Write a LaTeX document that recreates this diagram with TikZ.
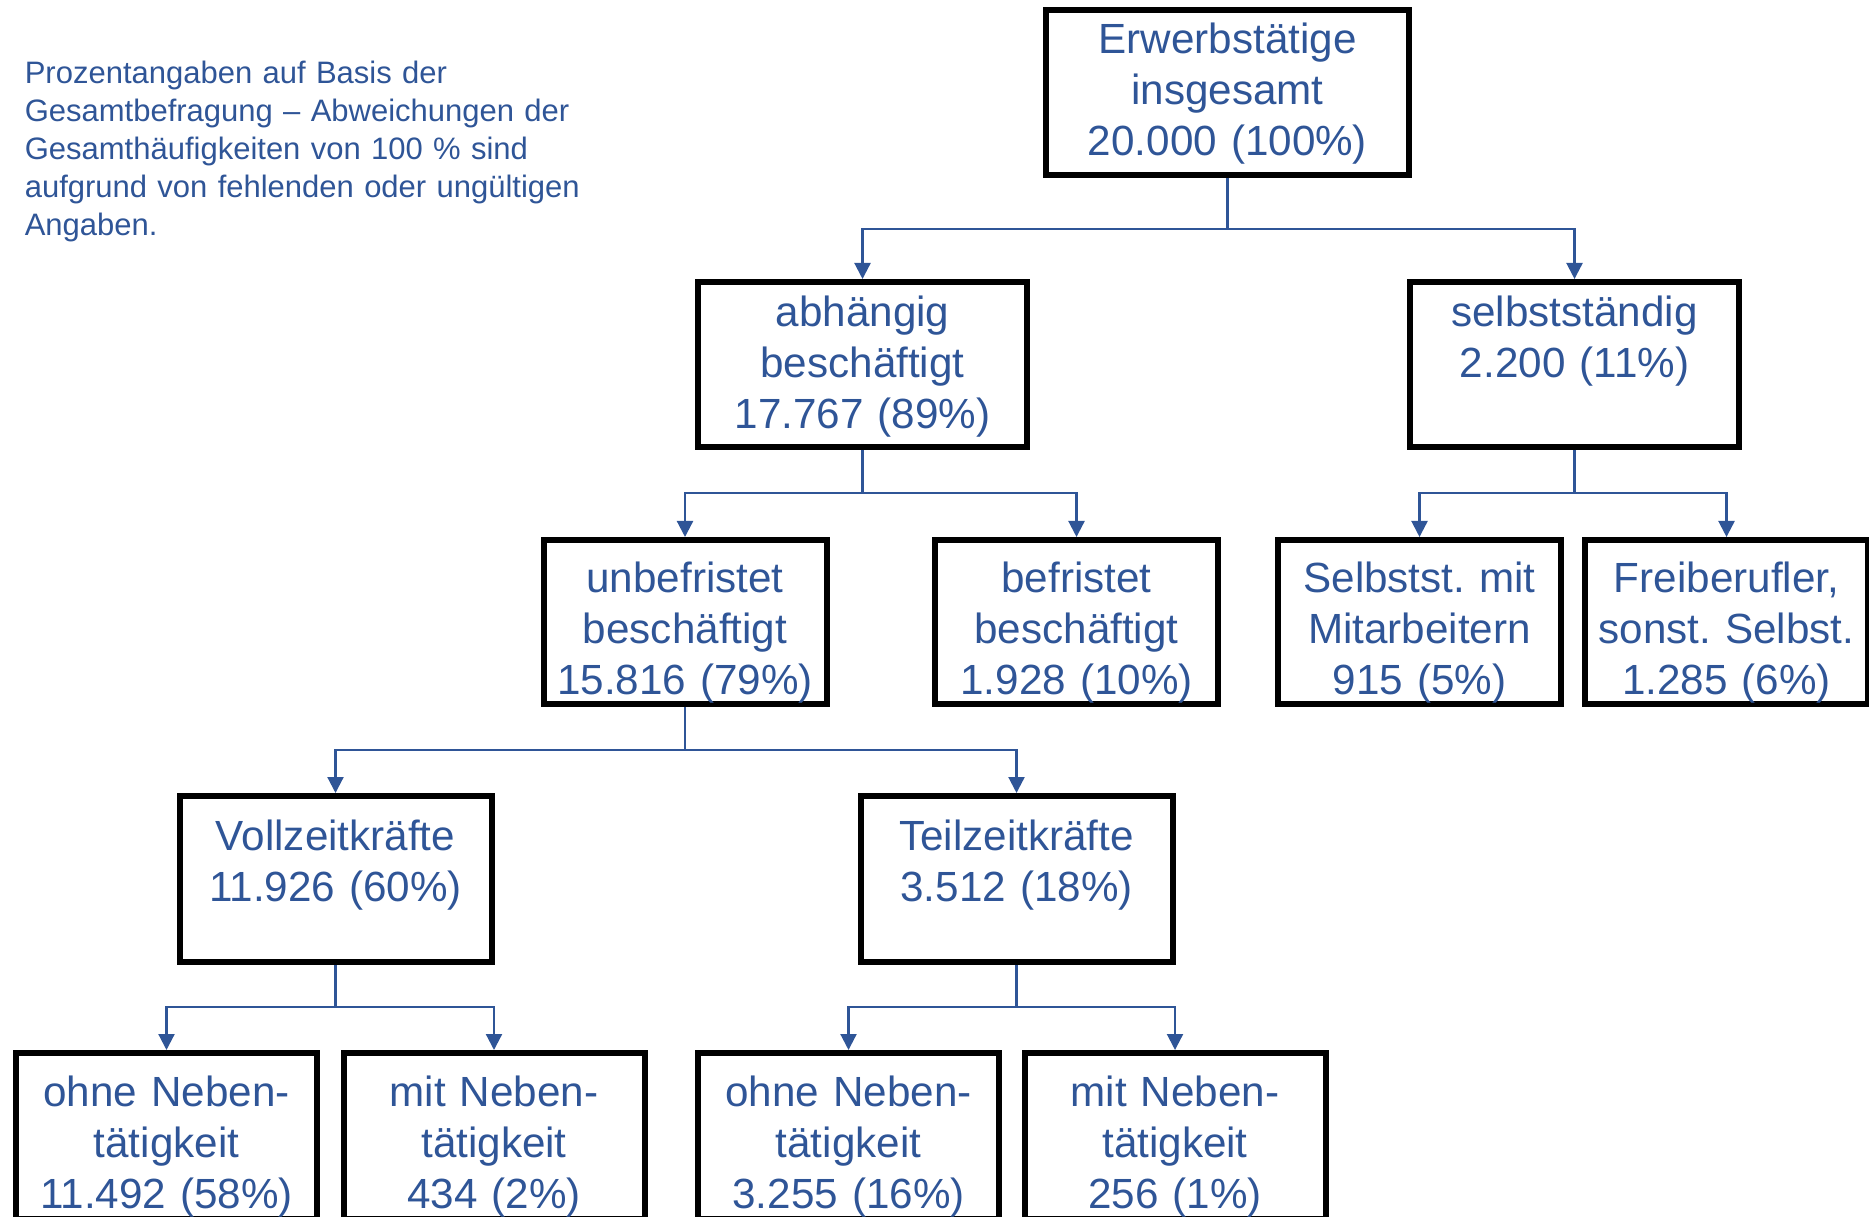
\documentclass[tikz,border=0pt]{standalone}
\usepackage{fontspec}
\setmainfont{Liberation Sans}
\frenchspacing
\usetikzlibrary{arrows.meta}
\definecolor{txtblue}{HTML}{2F5597}
\tikzstyle{box}=[draw=black, line width=1.5pt, inner sep=0pt, align=center, anchor=north, text=txtblue, font=\fontsize{10.55}{12.75}\selectfont]
\tikzstyle{rowa}=[box, text width=90.75pt, text height=11pt, text depth=30.25pt]
\tikzstyle{rowb}=[box, text width=82.25pt, text height=11.2pt, text depth=30.05pt]
\tikzstyle{rowc}=[box, text width=70.75pt, text height=13.1pt, text depth=27.9pt]
\tikzstyle{rowd}=[box, text width=78pt, text height=13.6pt, text depth=27.9pt]
\tikzstyle{rowe}=[box, text width=75.25pt, text height=13.4pt, text depth=28pt]
\tikzstyle{note}=[inner sep=0pt, anchor=base west, align=left, text width=150pt, text=txtblue, font=\fontsize{7.75}{9.5}\selectfont]
\tikzstyle{link}=[txtblue, line width=0.55pt, -{Triangle[length=4pt, width=4pt]}]

\begin{document}
\begin{tikzpicture}[x=0.25pt, y=-0.25pt]
    \useasboundingbox (0, 0) rectangle (1869, 1217);
    \clip (0, 0) rectangle (1869, 1217);
    \node[note] (hinweis) at (24, 84) {Prozentangaben auf Basis der\\
        Gesamtbefragung -- Abweichungen der\\
        Gesamthäufigkeiten von 100 \% sind\\
        aufgrund von fehlenden oder ungültigen\\
        Angaben.};
    \node[rowa] (erw) at (1227.5, 7) {Erwerbstätige\\insgesamt\\20.000 (100\%)};
    \node[rowb] (abh) at (862.5, 279) {abhängig\\beschäftigt\\17.767 (89\%)};
    \node[rowb] (selbst) at (1574.5, 279) {selbstständig\\2.200 (11\%)};
    \node[rowc] (unbef) at (685, 537) {unbefristet\\beschäftigt\\15.816 (79\%)};
    \node[rowc] (bef) at (1076.5, 537) {befristet\\beschäftigt\\1.928 (10\%)};
    \node[rowc] (mitma) at (1419.5, 537) {Selbstst. mit\\Mitarbeitern\\915 (5\%)};
    \node[rowc] (frei) at (1726.5, 537) {Freiberufler,\\sonst. Selbst.\\1.285 (6\%)};
    \node[rowd] (voll) at (335.5, 793) {Vollzeitkräfte\\11.926 (60\%)};
    \node[rowd] (teil) at (1016.5, 793) {Teilzeitkräfte\\3.512 (18\%)};
    \node[rowe] (vollohne) at (166.5, 1050) {ohne Neben-\\tätigkeit\\11.492 (58\%)};
    \node[rowe] (vollmit) at (494, 1050) {mit Neben-\\tätigkeit\\434 (2\%)};
    \node[rowe] (teilohne) at (848.5, 1050) {ohne Neben-\\tätigkeit\\3.255 (16\%)};
    \node[rowe] (teilmit) at (1175, 1050) {mit Neben-\\tätigkeit\\256 (1\%)};
    % Verbindungen
    \draw[link] (erw.south) -- ++(0, 51) -| (abh.north);
    \draw[link] (erw.south) -- ++(0, 51) -| (selbst.north);
    \draw[link] (abh.south) -- ++(0, 43) -| (unbef.north);
    \draw[link] (abh.south) -- ++(0, 43) -| (bef.north);
    \draw[link] (selbst.south) -- ++(0, 43) -| (mitma.north);
    \draw[link] (selbst.south) -- ++(0, 43) -| (frei.north);
    \draw[link] (unbef.south) -- ++(0, 43) -| (voll.north);
    \draw[link] (unbef.south) -- ++(0, 43) -| (teil.north);
    \draw[link] (voll.south) -- ++(0, 42) -| (vollohne.north);
    \draw[link] (voll.south) -- ++(0, 42) -| (vollmit.north);
    \draw[link] (teil.south) -- ++(0, 42) -| (teilohne.north);
    \draw[link] (teil.south) -- ++(0, 42) -| (teilmit.north);
\end{tikzpicture}
\end{document}
